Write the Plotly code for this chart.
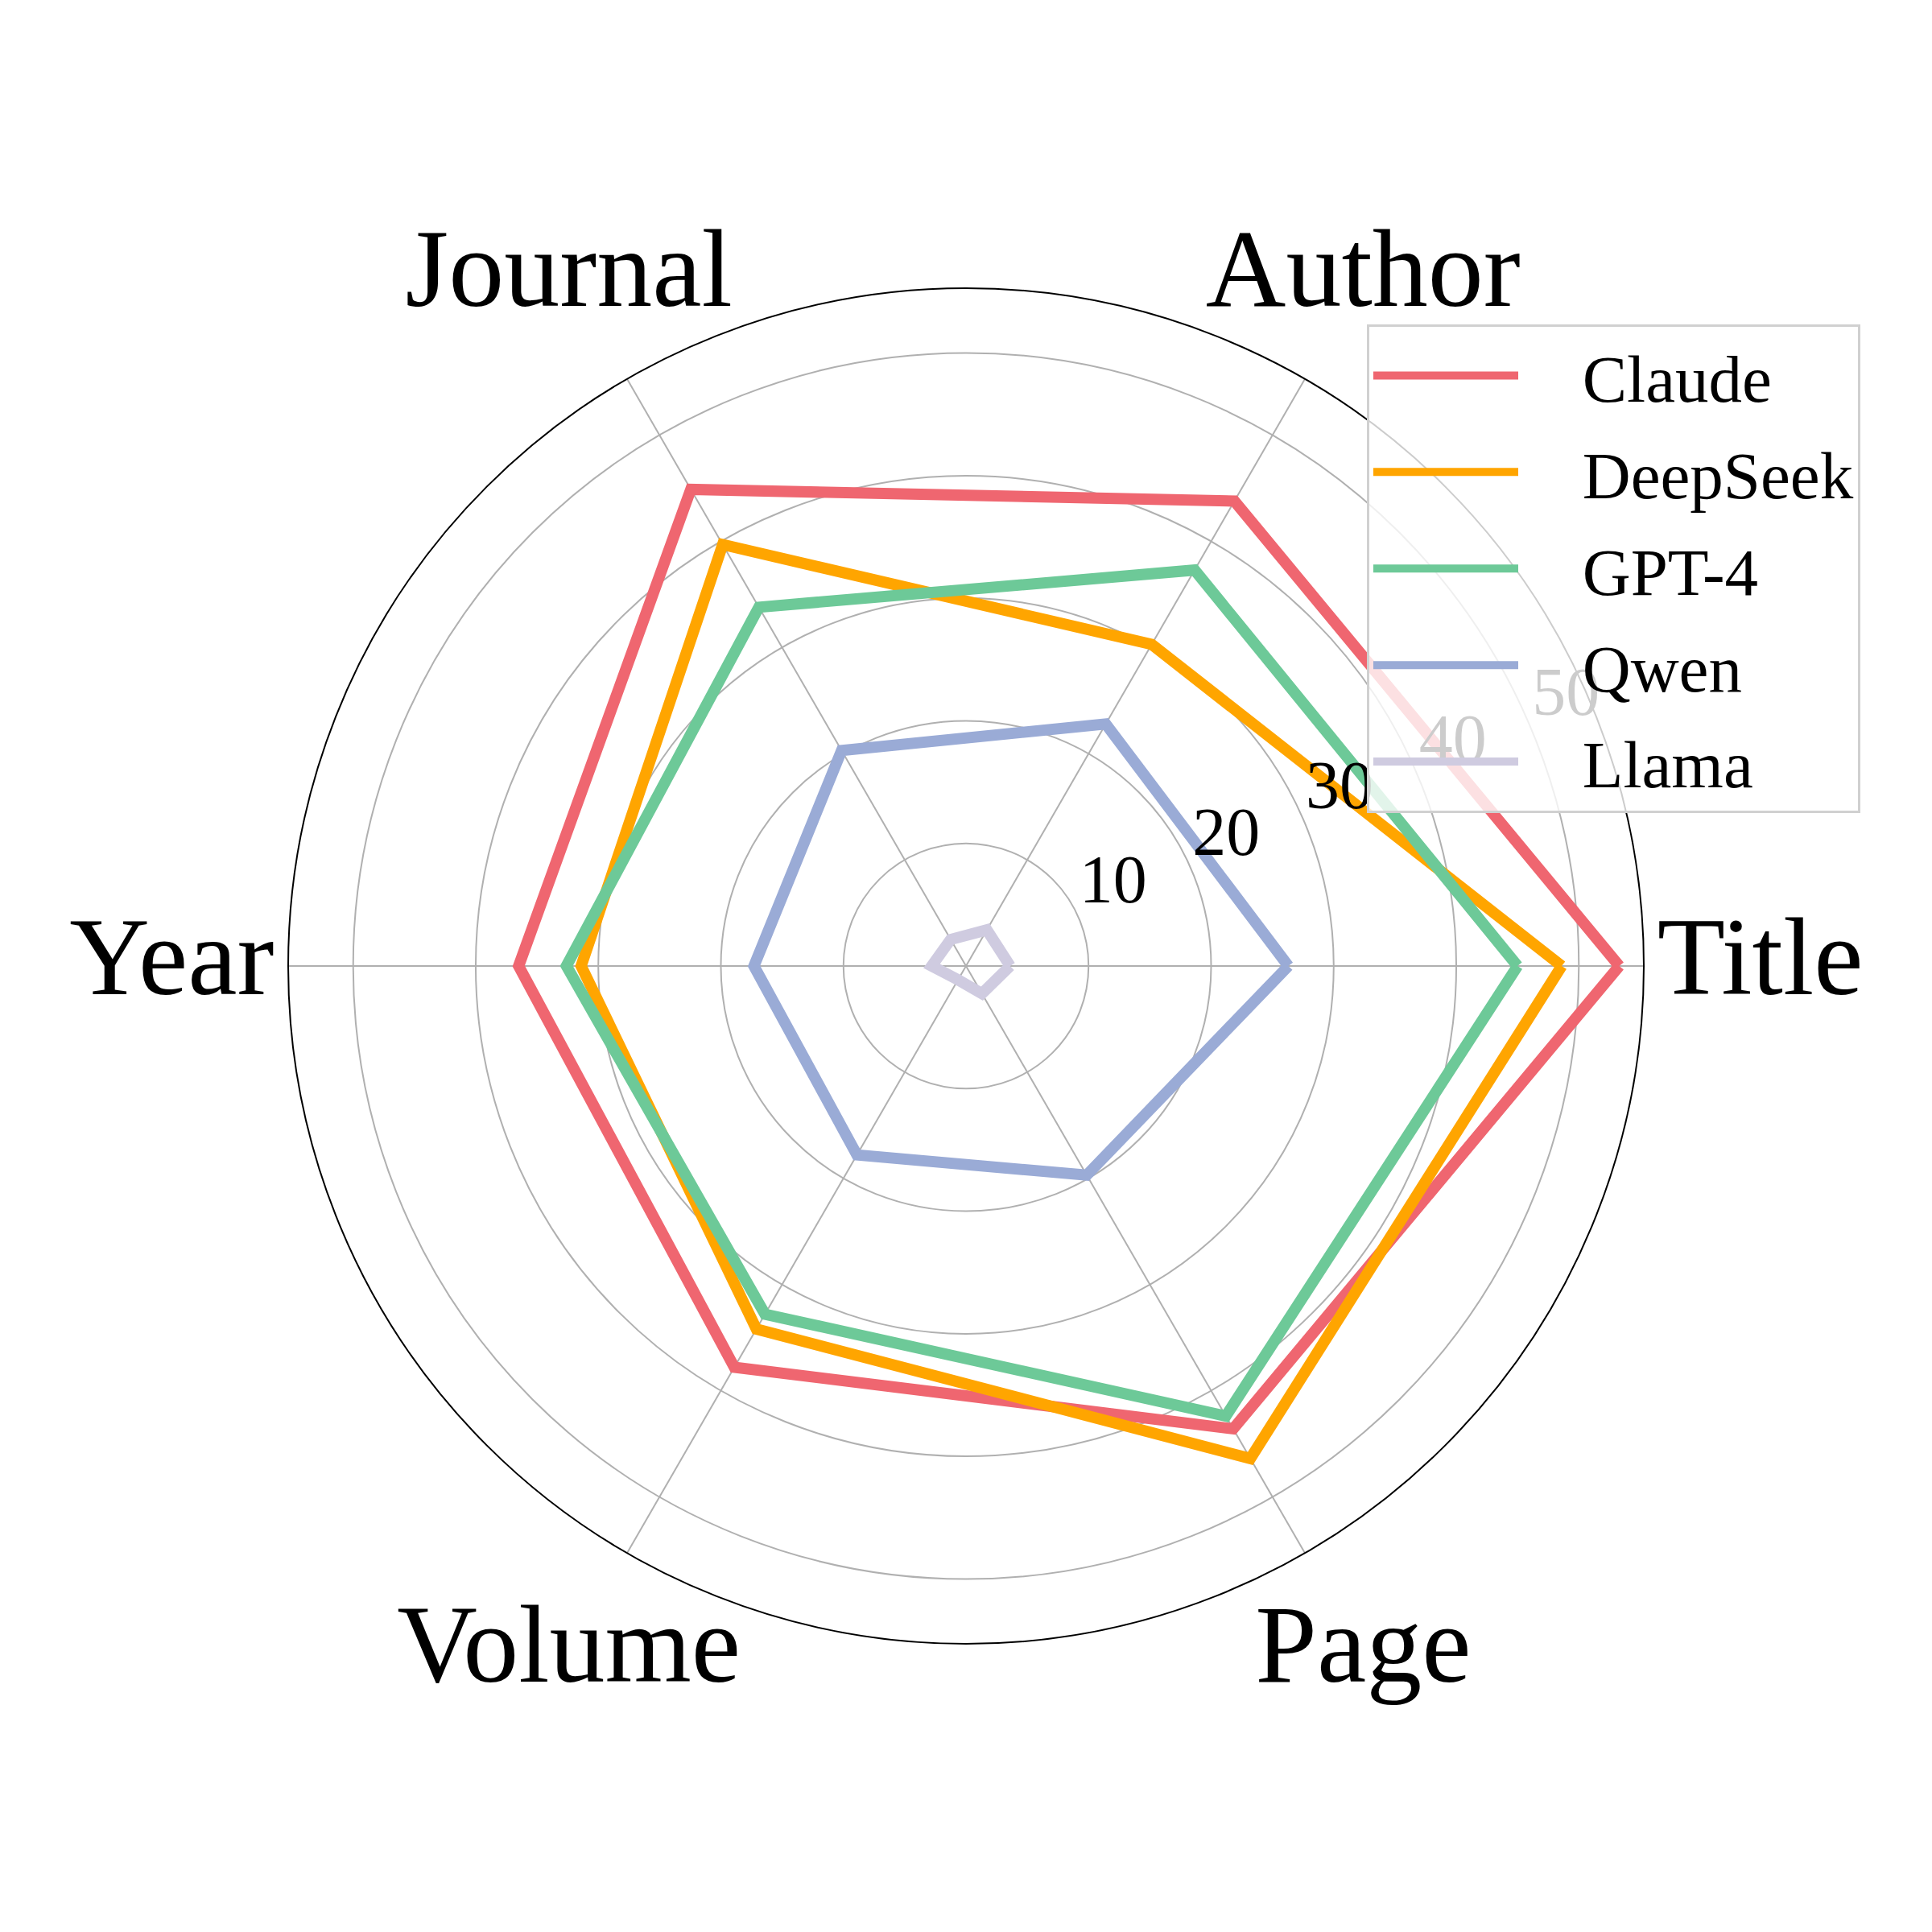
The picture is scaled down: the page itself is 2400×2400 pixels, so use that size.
import plotly.graph_objects as go

categories = ["Title", "Author", "Journal", "Year", "Volume", "Page"]
models = ["Claude", "DeepSeek", "GPT-4", "Qwen", "Llama"]
claude = [53.3, 43.8, 44.9, 36.5, 37.8, 43.6]
deepseek = [48.6, 30.3, 39.7, 31.4, 34.2, 46.4]
gpt4 = [45.0, 37.3, 33.8, 32.6, 32.8, 42.4]
qwen = [26.3, 22.8, 20.3, 17.3, 17.8, 19.7]
llama = [3.6, 3.4, 2.5, 2.8, 1.3, 2.6]
colors = ["#EF6670", "#FFA500", "#6DC998", "#9AABD6", "#CFCBE0"]
radial_ticks = [10, 20, 30, 40, 50]
r_max = 55.3
label_r = 64.8
tick_label_angle = 22.5

W = 2400
M = 100
body_shift = 8  # page body margin in the browser
plot_px = W - 2 * M
polar_radius_px = 842
half = polar_radius_px / plot_px
r_max2 = r_max * (plot_px / 2) / polar_radius_px

series = [claude, deepseek, gpt4, qwen, llama]

fig = go.Figure()
for name, vals, col in zip(models, series, colors):
    fig.add_trace(go.Scatterpolar(
        r=vals + vals[:1],
        theta=categories + categories[:1],
        mode="lines",
        name="\u00a0\u00a0\u2009\u2009" + name,
        legendgroup=name,
        line=dict(color=col, width=14),
    ))

# text layer on a second, invisible polar with the same scale
cat_angles = [i * 360 / len(categories) for i in range(len(categories))]
fig.add_trace(go.Scatterpolar(
    r=[label_r] * len(categories),
    theta=cat_angles,
    mode="text",
    text=categories,
    textposition="middle center",
    textfont=dict(size=138, color="black", family="Liberation Serif"),
    subplot="polar2",
    showlegend=False,
    hoverinfo="skip",
))
fig.add_trace(go.Scatterpolar(
    r=radial_ticks,
    theta=[tick_label_angle] * len(radial_ticks),
    mode="text",
    text=[str(t) for t in radial_ticks],
    textposition="top right",
    textfont=dict(size=84, color="black", family="Liberation Serif"),
    subplot="polar2",
    showlegend=False,
    hoverinfo="skip",
))

fig.update_layout(
    width=W, height=W,
    margin=dict(l=M - body_shift, r=M + body_shift, t=M - body_shift, b=M + body_shift),
    paper_bgcolor="white",
    font=dict(family="Liberation Serif", color="black"),
    polar=dict(
        domain=dict(x=[0.5 - half, 0.5 + half], y=[0.5 - half, 0.5 + half]),
        bgcolor="white",
        radialaxis=dict(
            range=[0, r_max],
            tickvals=radial_ticks,
            showticklabels=False,
            showline=False,
            ticks="",
            gridcolor="#b0b0b0",
            gridwidth=2,
        ),
        angularaxis=dict(
            rotation=0,
            direction="counterclockwise",
            categoryorder="array",
            categoryarray=categories,
            linecolor="black",
            linewidth=2,
            gridcolor="#b0b0b0",
            gridwidth=2,
            ticks="",
            showticklabels=False,
        ),
    ),
    polar2=dict(
        domain=dict(x=[0, 1], y=[0, 1]),
        bgcolor="rgba(0,0,0,0)",
        radialaxis=dict(range=[0, r_max2], visible=False),
        angularaxis=dict(
            type="linear", rotation=0, direction="counterclockwise",
            showgrid=False, showline=False, showticklabels=False, ticks="",
        ),
    ),
    legend=dict(
        x=(1698 - M) / plot_px, y=(W - M - 403) / plot_px,
        xanchor="left", yanchor="top",
        bgcolor="rgba(255,255,255,0.8)",
        bordercolor="#d0d0d0",
        borderwidth=3,
        itemwidth=180,
        tracegroupgap=9,
        font=dict(size=83, color="black"),
    ),
)

fig.write_html("out.html")
